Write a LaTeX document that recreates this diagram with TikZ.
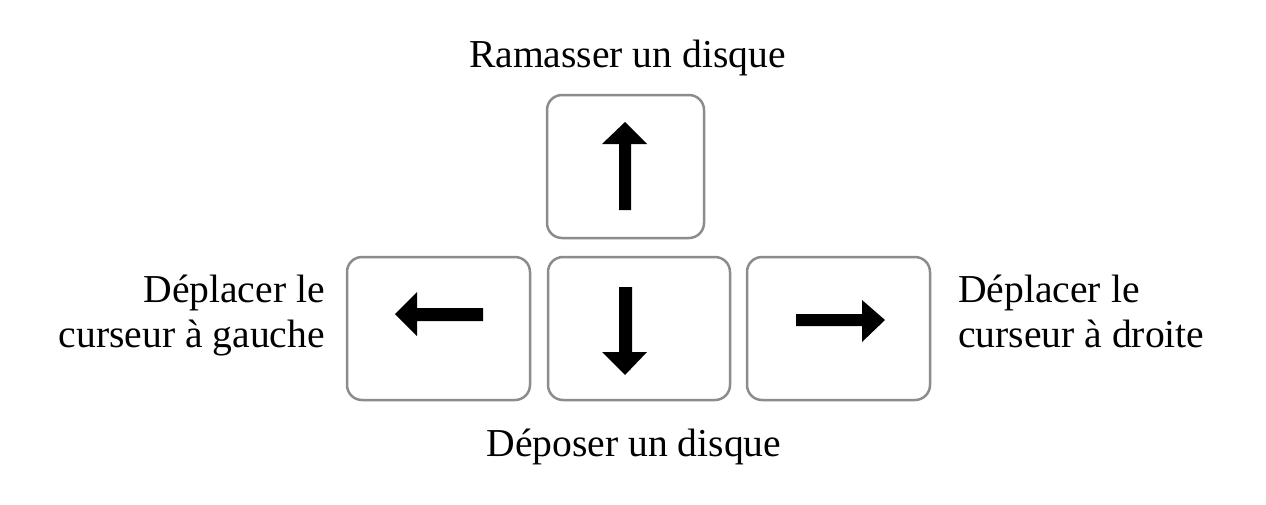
\documentclass[tikz,border=0pt]{standalone}
\usepackage{fontspec}
\setmainfont{Liberation Serif}
\begin{document}
\begin{tikzpicture}[x=1pt,y=-1pt,
  keybox/.style={draw=black!45, line width=2.5pt, rounded corners=15pt, fill=white, inner sep=0pt},
  arrowfill/.style={fill=black, draw=none},
  lbl/.style={font=\fontsize{39.6}{45}\selectfont, inner sep=0pt, anchor=base}]
\useasboundingbox[fill=white] (0,0) rectangle (1266,504);
% keys
\node[keybox, minimum width=157pt, minimum height=143pt] (up) at (625.5,166.5) {};
\node[keybox, minimum width=183pt, minimum height=143pt] (left) at (438.5,328.5) {};
\node[keybox, minimum width=182pt, minimum height=143pt] (down) at (639,328.5) {};
\node[keybox, minimum width=183pt, minimum height=143pt] (right) at (838.5,328.5) {};
% arrows
\fill[arrowfill] (619,210) -- (619,144) -- (602,144) -- (625,122) -- (647,144) -- (631,144) -- (631,210) -- cycle;
\fill[arrowfill] (619,287) -- (619,352) -- (602,352) -- (625,375) -- (647,352) -- (632,352) -- (632,287) -- cycle;
\fill[arrowfill] (483,308) -- (417,308) -- (417,292) -- (395,314) -- (417,336) -- (417,321) -- (483,321) -- cycle;
\fill[arrowfill] (796,314) -- (862,314) -- (862,300) -- (885,320) -- (862,342) -- (862,326) -- (796,326) -- cycle;
% labels
\node[lbl] (tup) at (627.5,67) {Ramasser un disque};
\node[lbl] (tdown) at (634,456) {Déposer un disque};
\node[lbl, anchor=base east, align=right] (tleft) at (325,347) {Déplacer le\\curseur à gauche};
\node[lbl, anchor=base west, align=left] (tright) at (958,347) {Déplacer le\\curseur à droite};
\end{tikzpicture}
\end{document}
